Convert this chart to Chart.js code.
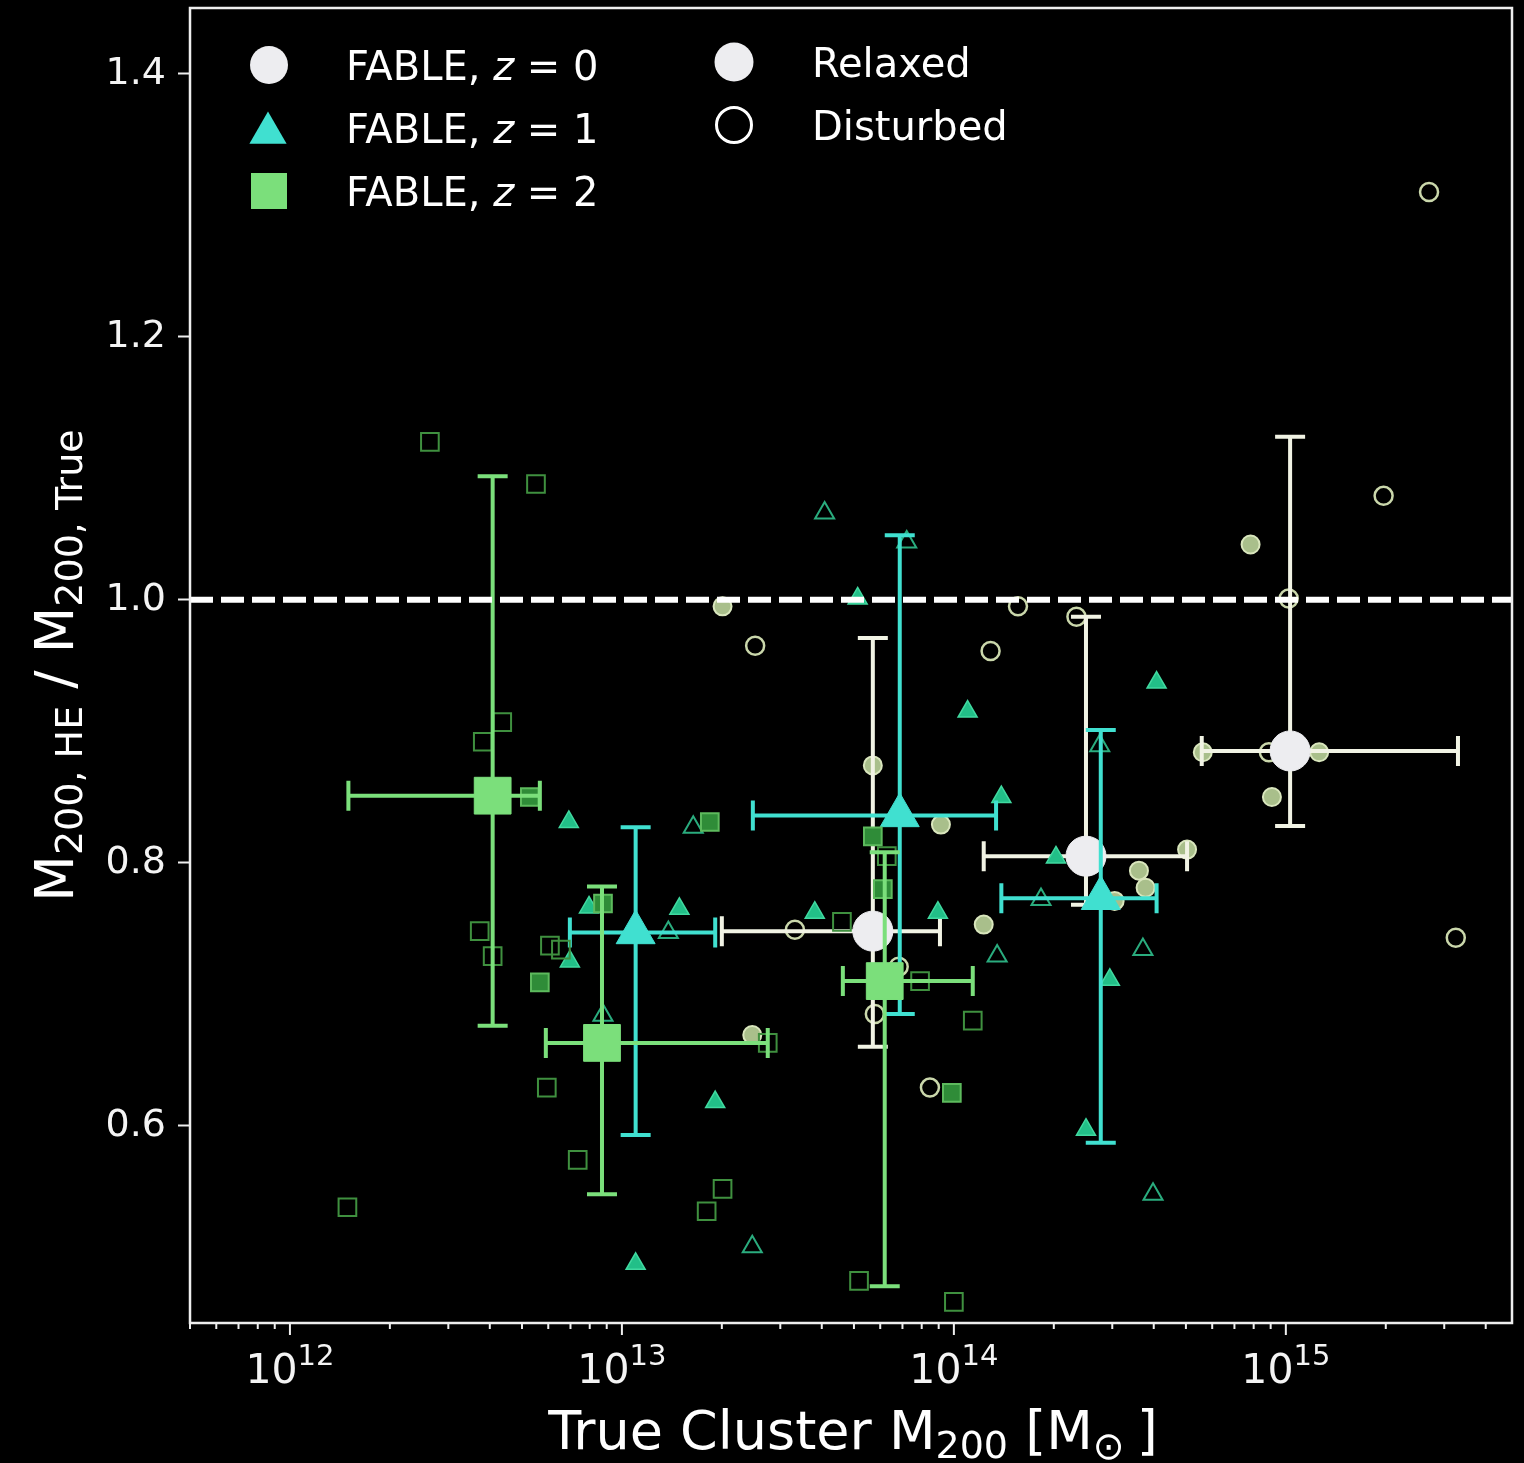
<!DOCTYPE html>
<html>
<head>
<meta charset="utf-8">
<title>FABLE hydrostatic mass bias</title>
<script src="https://cdn.jsdelivr.net/npm/chart.js@4.4.1/dist/chart.umd.min.js"></script>
<style>
  html, body { margin: 0; padding: 0; background: #000; }
  #wrap { width: 1524px; height: 1463px; }
  canvas { display: block; }
</style>
</head>
<body>
<div id="wrap"><canvas id="c" width="1524" height="1463"></canvas></div>
<script>
const FONT = '"DejaVu Sans", "Liberation Sans", sans-serif';

// ---- individual clusters: true M200 [Msun] and M200,HE / M200,true ----
// z = 0
const z0RelaxedMass  = [2.01e13, 5.70e13, 9.14e13, 2.47e13, 1.23e14, 5.04e14, 3.61e14, 3.78e14, 3.05e14, 7.83e14, 5.62e14, 1.26e15, 9.08e14];
const z0RelaxedRatio = [0.995, 0.874, 0.829, 0.669, 0.753, 0.810, 0.794, 0.781, 0.771, 1.042, 0.884, 0.884, 0.850];
const z0DisturbedMass  = [2.52e13, 3.32e13, 1.29e14, 1.56e14, 2.34e14, 5.78e13, 8.47e13, 6.82e13, 2.70e15, 1.97e15, 1.02e15, 3.25e15, 8.89e14];
const z0DisturbedRatio = [0.965, 0.749, 0.961, 0.995, 0.987, 0.685, 0.629, 0.721, 1.310, 1.079, 1.001, 0.743, 0.884];
// z = 1
const z1RelaxedMass  = [5.13e13, 1.10e14, 1.39e14, 8.95e13, 3.81e13, 2.03e14, 4.08e14, 2.95e14, 2.50e14, 6.92e12, 7.96e12, 1.49e13, 6.97e12, 1.91e13, 1.10e13];
const z1RelaxedRatio = [1.001, 0.915, 0.850, 0.762, 0.762, 0.804, 0.937, 0.711, 0.597, 0.831, 0.766, 0.765, 0.725, 0.618, 0.495];
const z1DisturbedMass  = [4.08e13, 7.21e13, 1.35e14, 1.83e14, 2.75e14, 3.71e14, 3.98e14, 1.64e13, 1.38e13, 8.77e12, 2.47e13];
const z1DisturbedRatio = [1.066, 1.044, 0.729, 0.772, 0.889, 0.734, 0.548, 0.827, 0.747, 0.684, 0.508];
// z = 2
const z2RelaxedMass  = [5.28e12, 1.84e13, 8.77e12, 5.66e12, 5.70e13, 6.11e13, 9.86e13];
const z2RelaxedRatio = [0.850, 0.831, 0.769, 0.709, 0.820, 0.780, 0.625];
const z2DisturbedMass  = [2.64e12, 5.51e12, 4.36e12, 3.81e12, 3.73e12, 4.08e12, 6.07e12, 6.55e12, 5.94e12, 7.36e12, 2.01e13, 1.80e13, 2.75e13, 1.49e12, 4.60e13, 6.28e13, 7.91e13, 1.14e14, 5.18e13, 1.00e14];
const z2DisturbedRatio = [1.120, 1.088, 0.907, 0.892, 0.748, 0.729, 0.737, 0.734, 0.629, 0.574, 0.552, 0.535, 0.663, 0.538, 0.755, 0.805, 0.710, 0.680, 0.482, 0.466];

// ---- binned medians with their spreads ----
const z0BinMass  = [5.70e13, 2.50e14, 1.03e15];
const z0BinRatio = [0.748, 0.805, 0.885];
const z0BinMassLo  = [2.00e13, 1.23e14, 5.58e14];
const z0BinMassHi  = [9.08e13, 5.04e14, 3.30e15];
const z0BinRatioLo = [0.660, 0.768, 0.828];
const z0BinRatioHi = [0.971, 0.987, 1.124];

const z1BinMass  = [1.10e13, 6.87e13, 2.77e14];
const z1BinRatio = [0.747, 0.836, 0.773];
const z1BinMassLo  = [6.97e12, 2.48e13, 1.39e14];
const z1BinMassHi  = [1.91e13, 1.34e14, 4.08e14];
const z1BinRatioLo = [0.593, 0.685, 0.587];
const z1BinRatioHi = [0.827, 1.049, 0.901];

const z2BinMass  = [4.08e12, 8.71e12, 6.19e13];
const z2BinRatio = [0.851, 0.663, 0.710];
const z2BinMassLo  = [1.50e12, 5.90e12, 4.63e13];
const z2BinMassHi  = [5.66e12, 2.75e13, 1.14e14];
const z2BinRatioLo = [0.676, 0.548, 0.478];
const z2BinRatioHi = [1.094, 0.782, 0.808];

// ---- axes ----
const xMin = 5.0e11, xMax = 4.8e15;
const yMin = 0.45, yMax = 1.45;
const yTickValues = [0.6, 0.8, 1.0, 1.2, 1.4];
const xDecades = [11, 12, 13, 14, 15];
const unbiasedRatio = 1.0;

const legendRows = ['FABLE, ', 'FABLE, ', 'FABLE, '];
const legendRedshifts = ['0', '1', '2'];
const stateLabels = ['Relaxed', 'Disturbed'];

function pts(xs, ys) { return xs.map((x, i) => ({ x: x, y: ys[i] })); }

const COL = {
  z0: '#ededf0', z0bar: '#f1f3e4',
  z0fill: '#a9bf8b', z0edge: '#d9e6bd', z0open: '#cad7ab',
  z1: '#40e0d0',
  z1fill: '#22bf88', z1edge: '#40d9a0', z1open: '#2aac7e',
  z2: '#7bdf7b',
  z2fill: '#2f8c38', z2edge: '#5dba5d', z2open: '#3f903f'
};

const datasets = [
  { label: 'z0 relaxed', data: pts(z0RelaxedMass, z0RelaxedRatio), pointStyle: 'circle', pointRadius: 9,
    pointBackgroundColor: COL.z0fill, pointBorderColor: COL.z0edge, pointBorderWidth: 2, order: 9 },
  { label: 'z0 disturbed', data: pts(z0DisturbedMass, z0DisturbedRatio), pointStyle: 'circle', pointRadius: 9,
    pointBackgroundColor: 'rgba(0,0,0,0)', pointBorderColor: COL.z0open, pointBorderWidth: 2.5, order: 9 },
  { label: 'z0 median', data: pts(z0BinMass, z0BinRatio), pointStyle: 'circle', pointRadius: 20,
    pointBackgroundColor: COL.z0, pointBorderColor: COL.z0, pointBorderWidth: 1, order: 8,
    errors: { color: COL.z0bar, xlo: z0BinMassLo, xhi: z0BinMassHi, ylo: z0BinRatioLo, yhi: z0BinRatioHi } },

  { label: 'z1 relaxed', data: pts(z1RelaxedMass, z1RelaxedRatio), pointStyle: 'triangle', pointRadius: 11,
    pointBackgroundColor: COL.z1fill, pointBorderColor: COL.z1edge, pointBorderWidth: 1.5, order: 7 },
  { label: 'z1 disturbed', data: pts(z1DisturbedMass, z1DisturbedRatio), pointStyle: 'triangle', pointRadius: 11,
    pointBackgroundColor: 'rgba(0,0,0,0)', pointBorderColor: COL.z1open, pointBorderWidth: 2, order: 7 },
  { label: 'z1 median', data: pts(z1BinMass, z1BinRatio), pointStyle: 'triangle', pointRadius: 22.5,
    pointBackgroundColor: COL.z1, pointBorderColor: COL.z1, pointBorderWidth: 1, order: 6,
    errors: { color: COL.z1, xlo: z1BinMassLo, xhi: z1BinMassHi, ylo: z1BinRatioLo, yhi: z1BinRatioHi } },

  { label: 'z2 relaxed', data: pts(z2RelaxedMass, z2RelaxedRatio), pointStyle: 'rect', pointRadius: 12.5,
    pointBackgroundColor: COL.z2fill, pointBorderColor: COL.z2edge, pointBorderWidth: 2, order: 5 },
  { label: 'z2 disturbed', data: pts(z2DisturbedMass, z2DisturbedRatio), pointStyle: 'rect', pointRadius: 12.5,
    pointBackgroundColor: 'rgba(0,0,0,0)', pointBorderColor: COL.z2open, pointBorderWidth: 2, order: 5 },
  { label: 'z2 median', data: pts(z2BinMass, z2BinRatio), pointStyle: 'rect', pointRadius: 26,
    pointBackgroundColor: COL.z2, pointBorderColor: COL.z2, pointBorderWidth: 1, order: 4,
    errors: { color: COL.z2, xlo: z2BinMassLo, xhi: z2BinMassHi, ylo: z2BinRatioLo, yhi: z2BinRatioHi } },

  { type: 'line', label: 'unbiased', data: [{ x: xMin, y: unbiasedRatio }, { x: xMax, y: unbiasedRatio }],
    borderColor: '#ffffff', borderWidth: 6, borderDash: [23, 8], pointRadius: 0, fill: false, order: 0 }
];

// background
const backgroundPlugin = {
  id: 'bg',
  beforeDraw(chart) {
    const ctx = chart.ctx;
    ctx.save();
    ctx.fillStyle = '#000';
    ctx.fillRect(0, 0, chart.width, chart.height);
    ctx.restore();
  }
};

// error bars, drawn just beneath their median markers
const errorBarPlugin = {
  id: 'errorBars',
  beforeDatasetDraw(chart, args) {
    const ds = chart.data.datasets[args.index];
    if (!ds.errors) return;
    const xs = chart.scales.x, ys = chart.scales.y, ctx = chart.ctx, e = ds.errors;
    const cap = 15;
    ctx.save();
    ctx.strokeStyle = e.color;
    ctx.lineWidth = 4;
    ds.data.forEach((p, i) => {
      const px = xs.getPixelForValue(p.x), py = ys.getPixelForValue(p.y);
      const x0 = xs.getPixelForValue(e.xlo[i]), x1 = xs.getPixelForValue(e.xhi[i]);
      const y0 = ys.getPixelForValue(e.ylo[i]), y1 = ys.getPixelForValue(e.yhi[i]);
      ctx.beginPath();
      ctx.moveTo(x0, py); ctx.lineTo(x1, py);
      ctx.moveTo(px, y0); ctx.lineTo(px, y1);
      ctx.moveTo(x0, py - cap); ctx.lineTo(x0, py + cap);
      ctx.moveTo(x1, py - cap); ctx.lineTo(x1, py + cap);
      ctx.moveTo(px - cap, y0); ctx.lineTo(px + cap, y0);
      ctx.moveTo(px - cap, y1); ctx.lineTo(px + cap, y1);
      ctx.stroke();
    });
    ctx.restore();
  }
};

// text made of runs with sub/superscripts
function drawRuns(ctx, runs, x, y, align) {
  let total = 0;
  runs.forEach(r => {
    ctx.font = (r.style || '') + ' ' + r.size + 'px ' + FONT;
    r.w = ctx.measureText(r.t).width;
    total += r.w + (r.gap || 0);
  });
  let cx = align === 'center' ? x - total / 2 : x;
  runs.forEach(r => {
    ctx.font = (r.style || '') + ' ' + r.size + 'px ' + FONT;
    ctx.fillText(r.t, cx, y + (r.dy || 0));
    cx += r.w + (r.gap || 0);
  });
}

function drawMarker(ctx, style, x, y, r, fill, stroke, lw) {
  ctx.beginPath();
  if (style === 'circle') {
    ctx.arc(x, y, r, 0, Math.PI * 2);
  } else if (style === 'triangle') {
    ctx.moveTo(x, y - r);
    ctx.lineTo(x + r * 0.866, y + r * 0.5);
    ctx.lineTo(x - r * 0.866, y + r * 0.5);
    ctx.closePath();
  } else {
    ctx.rect(x - r, y - r, 2 * r, 2 * r);
  }
  if (fill) { ctx.fillStyle = fill; ctx.fill(); }
  if (stroke) { ctx.strokeStyle = stroke; ctx.lineWidth = lw; ctx.stroke(); }
}

// frame, log ticks, axis titles and key
const decorPlugin = {
  id: 'decor',
  afterDraw(chart) {
    const ctx = chart.ctx, a = chart.chartArea, xs = chart.scales.x;
    ctx.save();

    // frame
    ctx.strokeStyle = '#eeeeee';
    ctx.lineWidth = 2.5;
    ctx.strokeRect(a.left, a.top, a.right - a.left, a.bottom - a.top);

    // x ticks (major + minor) and labels
    ctx.strokeStyle = '#eeeeee';
    ctx.lineWidth = 2;
    xs.ticks.forEach(t => {
      const px = xs.getPixelForValue(t.value);
      if (px < a.left - 0.5 || px > a.right + 0.5) return;
      const len = t.major ? 12 : 6;
      ctx.beginPath();
      ctx.moveTo(px, a.bottom);
      ctx.lineTo(px, a.bottom + len);
      ctx.stroke();
    });
    ctx.fillStyle = '#f4f4f4';
    ctx.textBaseline = 'alphabetic';
    xs.ticks.filter(t => t.major).forEach(t => {
      const px = xs.getPixelForValue(t.value);
      if (px < a.left || px > a.right) return;
      const exp = Math.round(Math.log10(t.value));
      drawRuns(ctx, [
        { t: '10', size: 41 },
        { t: String(exp), size: 29, dy: -18 }
      ], px, a.bottom + 60, 'center');
    });

    // axis titles
    ctx.fillStyle = '#ffffff';
    drawRuns(ctx, [
      { t: 'True Cluster M', size: 54 },
      { t: '200', size: 38, dy: 9 },
      { t: ' [M', size: 54 },
      { t: '\u2299', size: 38, dy: 10, gap: 12 },
      { t: ']', size: 54 }
    ], (a.left + a.right) / 2 + 2, 1449, 'center');

    ctx.save();
    ctx.translate(73, (a.top + a.bottom) / 2);
    ctx.rotate(-Math.PI / 2);
    drawRuns(ctx, [
      { t: 'M', size: 54 },
      { t: '200, HE', size: 38, dy: 9 },
      { t: ' / M', size: 54 },
      { t: '200, True', size: 38, dy: 9 }
    ], 0, 0, 'center');
    ctx.restore();

    // key
    const rowsY = [65, 128, 191];
    drawMarker(ctx, 'circle', 269, rowsY[0], 19, COL.z0);
    drawMarker(ctx, 'triangle', 268, rowsY[1] + 5, 21.5, COL.z1);
    drawMarker(ctx, 'rect', 269, rowsY[2], 18, COL.z2);
    ctx.fillStyle = '#ffffff';
    rowsY.forEach((yy, i) => {
      drawRuns(ctx, [
        { t: legendRows[i], size: 40 },
        { t: 'z', size: 40, style: 'oblique' },
        { t: ' = ', size: 40 },
        { t: legendRedshifts[i], size: 40 }
      ], 346, yy + 15, 'left');
    });
    drawMarker(ctx, 'circle', 734, 62, 19.5, COL.z0);
    drawMarker(ctx, 'circle', 734, 125, 17.5, null, '#ffffff', 3);
    ctx.fillStyle = '#ffffff';
    drawRuns(ctx, [{ t: stateLabels[0], size: 40 }], 812, 77, 'left');
    drawRuns(ctx, [{ t: stateLabels[1], size: 40 }], 812, 140, 'left');

    ctx.restore();
  }
};

new Chart(document.getElementById('c'), {
  type: 'scatter',
  data: { datasets: datasets },
  options: {
    responsive: false,
    devicePixelRatio: 1,
    animation: false,
    events: [],
    layout: { autoPadding: false, padding: { left: 0, top: 8, right: 12, bottom: 0 } },
    plugins: { legend: { display: false }, tooltip: { enabled: false }, title: { display: false } },
    scales: {
      x: {
        type: 'logarithmic',
        min: xMin, max: xMax,
        grid: { display: false },
        border: { display: false },
        ticks: { display: false },
        afterBuildTicks(scale) {
          const ticks = [];
          xDecades.forEach(e => {
            for (let m = 1; m <= 9; m++) {
              const v = m * Math.pow(10, e);
              if (v >= xMin && v <= xMax) ticks.push({ value: v, major: m === 1 });
            }
          });
          scale.ticks = ticks;
        },
        afterFit(scale) {
          scale.height = 140;
          scale.paddingLeft = 0; scale.paddingRight = 0;
          scale.paddingTop = 0; scale.paddingBottom = 0;
        }
      },
      y: {
        type: 'linear',
        min: yMin, max: yMax,
        afterBuildTicks(scale) { scale.ticks = yTickValues.map(v => ({ value: v })); },
        afterFit(scale) {
          scale.width = 190;
          scale.paddingTop = 0; scale.paddingBottom = 0;
          scale.paddingLeft = 0; scale.paddingRight = 0;
        },
        grid: { display: true, drawOnChartArea: false, drawTicks: true, tickLength: 12, tickColor: '#eeeeee', tickWidth: 2 },
        border: { display: false },
        ticks: {
          color: '#f4f4f4',
          padding: 12,
          font: { family: FONT, size: 38 },
          callback: v => Number(v).toFixed(1)
        }
      }
    }
  },
  plugins: [backgroundPlugin, errorBarPlugin, decorPlugin]
});
</script>
</body>
</html>
